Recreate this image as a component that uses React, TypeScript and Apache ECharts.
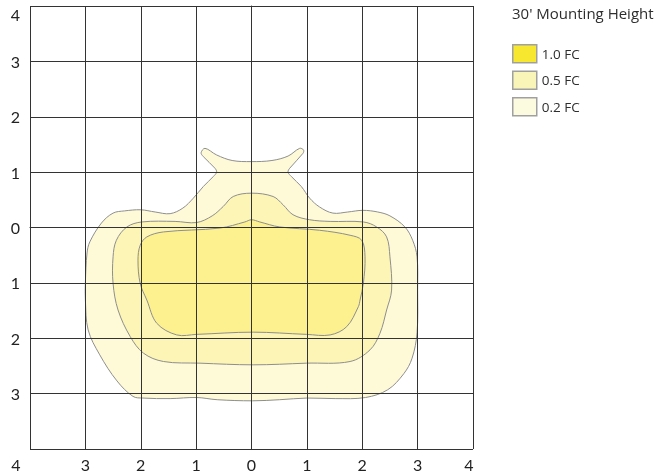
import React, { useEffect, useRef } from "react";
import * as echarts from "echarts";

// Axis ticks (feet x 10, shown as absolute values)
const xTicks = [-4, -3, -2, -1, 0, 1, 2, 3, 4];
const yTicks = [-4, -3, -2, -1, 0, 1, 2, 3, 4];

const levelNames = ["1.0 FC", "0.5 FC", "0.2 FC"];
const swatchColors = ["#f7e82f", "#f9f4b8", "#fdfbdf"];
const fillColors = ["#fdf08f", "#fcf5b5", "#fefad8"];

const titleText = "30' Mounting Height";

// Contour outlines, [x, y]
const contour02: number[][] = [
  [0, 1.19], [0.37, 1.21], [0.66, 1.29], [0.87, 1.43], [0.94, 1.4], [0.93, 1.34],
  [0.69, 1.07], [0.66, 1.0], [0.72, 0.92], [0.9, 0.74], [1.05, 0.53], [1.23, 0.37],
  [1.47, 0.26], [1.74, 0.28], [2.01, 0.31], [2.28, 0.28], [2.5, 0.21], [2.77, 0.01],
  [2.91, -0.23], [2.99, -0.53], [3.0, -1.13], [2.99, -1.9], [2.9, -2.36], [2.75, -2.64],
  [2.46, -2.93], [2.06, -3.07], [1.51, -3.09], [1.0, -3.08], [0.51, -3.11], [0.02, -3.13],
  [-0.62, -3.11], [-0.99, -3.07], [-1.47, -3.09], [-1.96, -3.08], [-2.14, -3.05],
  [-2.43, -2.77], [-2.74, -2.3], [-2.95, -1.85], [-3.0, -1.31], [-3.0, -1.0],
  [-2.97, -0.46], [-2.92, -0.26], [-2.71, 0.08], [-2.5, 0.26], [-2.29, 0.3], [-2.0, 0.32],
  [-1.74, 0.28], [-1.47, 0.25], [-1.24, 0.35], [-1.05, 0.53], [-0.87, 0.74], [-0.69, 0.92],
  [-0.63, 1.0], [-0.66, 1.07], [-0.87, 1.28], [-0.91, 1.35], [-0.84, 1.43], [-0.63, 1.31],
  [-0.35, 1.21],
];

const contour05: number[][] = [
  [0, 0.62], [0.39, 0.56], [0.57, 0.41], [0.75, 0.23], [1.05, 0.14], [1.42, 0.11],
  [2.02, 0.1], [2.26, 0.01], [2.44, -0.17], [2.5, -0.53], [2.53, -1.13], [2.44, -1.49],
  [2.32, -1.91], [2.14, -2.21], [1.78, -2.42], [0.99, -2.45], [0.03, -2.48], [-0.93, -2.45],
  [-1.59, -2.42], [-1.95, -2.27], [-2.19, -1.97], [-2.41, -1.49], [-2.5, -1.01],
  [-2.5, -0.53], [-2.44, -0.23], [-2.25, 0.01], [-1.98, 0.1], [-1.38, 0.11], [-0.99, 0.09],
  [-0.71, 0.21], [-0.51, 0.38], [-0.33, 0.56],
];

const contour10: number[][] = [
  [0, 0.14], [0.15, 0.1], [0.51, 0.01], [1.23, -0.05], [1.78, -0.14], [1.99, -0.23],
  [2.05, -0.53], [2.02, -1.01], [1.96, -1.31], [1.93, -1.43], [1.72, -1.79], [1.42, -1.94],
  [0.99, -1.93], [0.03, -1.89], [-0.99, -1.93], [-1.35, -1.94], [-1.71, -1.73],
  [-1.89, -1.31], [-2.01, -1.01], [-2.05, -0.59], [-2.01, -0.32], [-1.89, -0.17],
  [-1.59, -0.08], [-0.57, -0.01], [-0.12, 0.1],
];

const contours = [contour10, contour05, contour02];

export default function App() {
  const ref = useRef<HTMLDivElement>(null);
  useEffect(() => {
    if (!ref.current) return;
    const chart = echarts.init(ref.current, null, { renderer: "svg" });
    const font = "Lato";
    const sideFont = "Open Sans";
    const gridColor = "#333";

    const makeSeries = (i: number) => ({
      type: "custom",
      name: levelNames[i],
      z: 2 + (2 - i),
      itemStyle: { color: swatchColors[i] },
      data: contours[i],
      renderItem: (params: any, api: any) => {
        if (params.dataIndex !== 0) return null;
        const pts = contours[i].map((p) => api.coord(p));
        return {
          type: "polygon",
          shape: { points: pts, smooth: 0.35 },
          style: { fill: fillColors[i], stroke: "#8e8e8e", lineWidth: 1 },
        };
      },
      silent: true,
    });

    chart.setOption({
      animation: false,
      title: {
        text: titleText,
        left: 512,
        top: 5,
        padding: 0,
        textStyle: { fontFamily: sideFont, fontSize: 15, fontWeight: "normal", color: "#2e2e2e" },
      },
      legend: {
        orient: "vertical",
        left: 512,
        top: 44,
        padding: 0,
        itemWidth: 24,
        itemHeight: 18,
        itemGap: 7,
        itemTextGap: 4,
        selectedMode: false,
        textStyle: { fontFamily: sideFont, fontSize: 13.5, fontWeight: "normal", color: "#2e2e2e" },
        data: levelNames.map((n, i) => ({
          name: n,
          icon: "rect",
          itemStyle: { color: swatchColors[i], borderColor: "#a0a0a0", borderWidth: 1.5 },
        })),
      },
      grid: { left: 30, top: 6, width: 443, height: 443 },
      xAxis: {
        type: "value",
        min: xTicks[0],
        max: xTicks[xTicks.length - 1],
        interval: 1,
        z: 10,
        axisLine: { show: true, lineStyle: { color: gridColor, width: 1 } },
        axisTick: { show: false },
        splitLine: { show: true, lineStyle: { color: gridColor, width: 1 } },
        axisLabel: {
          margin: 7,
          fontFamily: font,
          fontSize: 16,
          color: "#222",
          formatter: (v: number) => {
            if (v === xTicks[0]) return "{l|" + Math.abs(v) + "}";
            if (v === xTicks[xTicks.length - 1]) return "{r|" + Math.abs(v) + "}";
            return String(Math.abs(v));
          },
          rich: {
            l: { fontFamily: font, fontSize: 16, color: "#222", padding: [0, 28, 0, 0] },
            r: { fontFamily: font, fontSize: 16, color: "#222", padding: [0, 8, 0, 0] },
          },
        },
      },
      yAxis: {
        type: "value",
        min: yTicks[0],
        max: yTicks[yTicks.length - 1],
        interval: 1,
        z: 10,
        axisLine: { show: true, lineStyle: { color: gridColor, width: 1 } },
        axisTick: { show: false },
        splitLine: { show: true, lineStyle: { color: gridColor, width: 1 } },
        axisLabel: {
          margin: 10,
          fontFamily: font,
          fontSize: 16,
          color: "#222",
          formatter: (v: number) => {
            if (v === yTicks[0]) return "";
            if (v === yTicks[yTicks.length - 1]) return "{t|" + Math.abs(v) + "}";
            return String(Math.abs(v));
          },
          rich: {
            t: { fontFamily: font, fontSize: 16, color: "#222", padding: [16, 0, 0, 0] },
          },
        },
      },
      series: [makeSeries(2), makeSeries(1), makeSeries(0)],
    });
    return () => chart.dispose();
  }, []);
  return (
    <div
      ref={ref}
      style={{ position: "fixed", left: 0, top: 0, width: 669, height: 476 }}
    />
  );
}
